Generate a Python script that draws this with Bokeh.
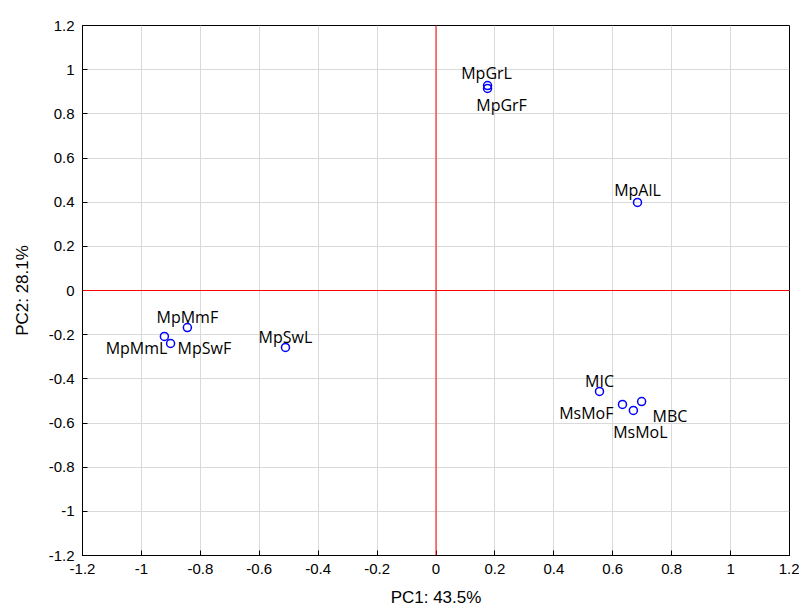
from bokeh.plotting import figure
from bokeh.models import ColumnDataSource, FixedTicker, Span
from bokeh.embed import file_html
from bokeh.resources import INLINE
from bokeh.core.properties import value

# ---- data ----
names = ["MpGrL", "MpGrF", "MpAlL", "MpMmF", "MpMmL", "MpSwF", "MpSwL",
         "MIC", "MsMoF", "MsMoL", "MBC"]
pc1 = [0.175, 0.175, 0.684, -0.844, -0.922, -0.901, -0.511,
       0.555, 0.633, 0.670, 0.698]
pc2 = [0.928, 0.915, 0.399, -0.168, -0.208, -0.240, -0.258,
       -0.457, -0.516, -0.543, -0.503]

tick_values = [-1.2, -1.0, -0.8, -0.6, -0.4, -0.2, 0.0, 0.2, 0.4, 0.6, 0.8, 1.0, 1.2]
tick_labels = ["-1.2", "-1", "-0.8", "-0.6", "-0.4", "-0.2", "0",
               "0.2", "0.4", "0.6", "0.8", "1", "1.2"]

x_title = "PC1: 43.5%"
y_title = "PC2: 28.1%"

# label placement (screen px, style only)
lab_align = ["center", "center", "center", "center", "right", "left", "center",
             "center", "right", "center", "left"]
lab_dx = [-1, 14, 0, 0, 3, 7, 0, 0, -9, 7, 11]
lab_dy = [-13, 17, -12, -11, 12, 4, -10, -10, 9, 22, 14]

src = ColumnDataSource(dict(x=pc1, y=pc2, name=names, align=lab_align,
                            dx=lab_dx, dy=lab_dy))

p = figure(frame_width=707, frame_height=530, x_range=(-1.2, 1.2), y_range=(-1.2, 1.2),
           output_backend="svg", toolbar_location=None,
           min_border_left=82, min_border_right=10, min_border_top=25, min_border_bottom=50)

p.background_fill_color = "white"
p.border_fill_color = "white"
p.outline_line_color = "black"
p.outline_line_width = 1

tick_font = "Liberation Sans"
overrides = {v: l for v, l in zip(tick_values, tick_labels)}
for ax in (p.xaxis[0], p.yaxis[0]):
    ax.ticker = FixedTicker(ticks=tick_values)
    ax.major_label_overrides = overrides
    ax.major_tick_in = 5
    ax.major_tick_out = 0
    ax.minor_tick_line_color = None
    ax.major_tick_line_color = "black"
    ax.axis_line_color = "black"
    ax.major_label_text_font = tick_font
    ax.major_label_text_font_size = "15px"
    ax.major_label_text_color = "black"
    ax.major_label_standoff = 8
    ax.axis_label_text_font = tick_font
    ax.axis_label_text_font_size = "17px"
    ax.axis_label_text_font_style = "normal"
    ax.axis_label_text_color = "black"

p.xaxis.axis_label = x_title
p.yaxis.axis_label = y_title
p.xaxis.axis_label_standoff = 11
p.yaxis.axis_label_standoff = 14
p.yaxis.major_label_orientation = "horizontal"

p.xgrid.ticker = FixedTicker(ticks=tick_values)
p.ygrid.ticker = FixedTicker(ticks=tick_values)
p.grid.grid_line_color = "#d9d9d9"
p.grid.grid_line_width = 1

p.add_layout(Span(location=0, dimension="height", line_color="red", line_width=1))
p.add_layout(Span(location=0, dimension="width", line_color="red", line_width=1))

p.scatter("x", "y", source=src, size=8, marker="circle", fill_color=None,
          line_color="#0000ff", line_width=1.5)

p.text("x", "y", text="name", source=src, x_offset="dx", y_offset="dy",
       text_align="align", text_baseline="middle",
       text_font=value("Open Sans"), text_font_size="16px", text_color="black")

open("out.html", "w").write(file_html(p, INLINE))
